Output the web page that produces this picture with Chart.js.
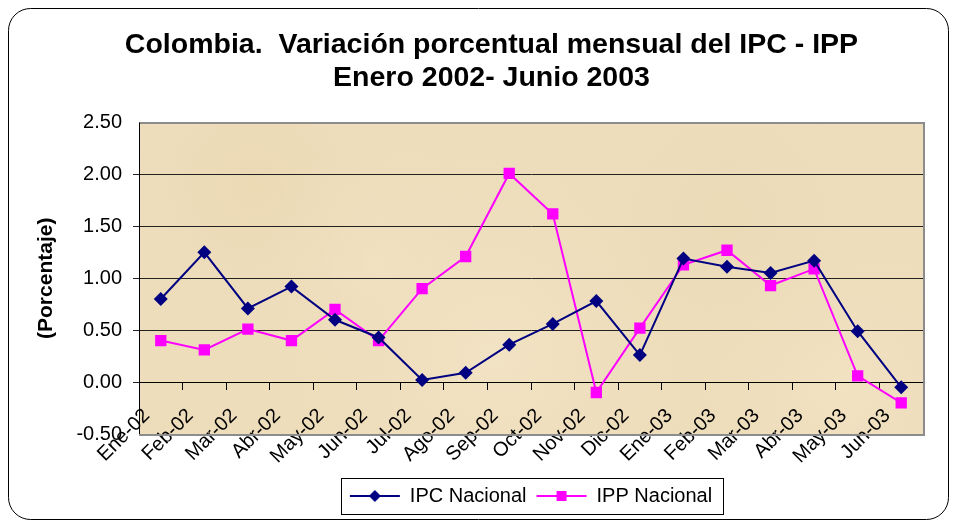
<!DOCTYPE html>
<html>
<head>
<meta charset="utf-8">
<script src="https://cdn.jsdelivr.net/npm/chart.js@4.4.0/dist/chart.umd.min.js"></script>
<style>
  html, body { margin: 0; padding: 0; background: #fff; }
  #wrap { position: relative; width: 957px; height: 526px; }
</style>
</head>
<body>
<div id="wrap">
  <canvas id="ipcChart" width="957" height="526"></canvas>
</div>

<script>
// meses Ene-2002 .. Jun-2003
var meses = ['Ene-02','Feb-02','Mar-02','Abr-02','May-02','Jun-02','Jul-02','Ago-02','Sep-02',
             'Oct-02','Nov-02','Dic-02','Ene-03','Feb-03','Mar-03','Abr-03','May-03','Jun-03'];

var ipcNacional = [0.80, 1.25, 0.71, 0.92, 0.60, 0.43, 0.02, 0.09, 0.36,
                   0.56, 0.78, 0.26, 1.19, 1.11, 1.05, 1.17, 0.49, -0.05];

var ippNacional = [0.40, 0.31, 0.51, 0.40, 0.70, 0.40, 0.90, 1.21, 2.01,
                   1.62, -0.10, 0.52, 1.13, 1.27, 0.93, 1.09, 0.06, -0.20];

var yTicks = [-0.5, 0, 0.5, 1, 1.5, 2, 2.5];

var FONT = "'Liberation Sans', Arial, sans-serif";

// legend sample: short line with the marker in the middle
function legendSample(color, shape) {
  var c = document.createElement('canvas');
  c.width = 52; c.height = 16;
  var g = c.getContext('2d');
  g.strokeStyle = color;
  g.lineWidth = 2;
  g.beginPath(); g.moveTo(1, 8); g.lineTo(51, 8); g.stroke();
  g.fillStyle = color;
  g.beginPath();
  if (shape == 'diamond') {
    g.moveTo(26, 2); g.lineTo(32, 8); g.lineTo(26, 14); g.lineTo(20, 8);
  } else {
    g.rect(21, 3, 10, 10);
  }
  g.closePath(); g.fill();
  return c;
}

// outer frame, parchment plot background and gray shadow border
var decor = {
  id: 'decor',
  beforeDraw: function (chart) {
    var ctx = chart.ctx, a = chart.chartArea;
    ctx.save();
    ctx.fillStyle = '#fff';
    ctx.fillRect(0, 0, chart.width, chart.height);
    ctx.beginPath();
    ctx.roundRect(8.5, 8.5, 940, 511, 22);
    ctx.strokeStyle = '#000';
    ctx.lineWidth = 1;
    ctx.stroke();

    ctx.fillStyle = '#EEDDBB';
    ctx.fillRect(a.left, a.top, a.right - a.left, a.bottom - a.top);
    var spots = [[0.15, 0.2, 170, 'rgba(232,212,172,0.45)'], [0.45, 0.75, 220, 'rgba(245,232,204,0.55)'],
                 [0.75, 0.3, 200, 'rgba(232,214,176,0.4)'], [0.9, 0.85, 160, 'rgba(244,230,200,0.55)'],
                 [0.3, 0.45, 140, 'rgba(242,228,198,0.45)']];
    ctx.beginPath();
    ctx.rect(a.left, a.top, a.right - a.left, a.bottom - a.top);
    ctx.clip();
    spots.forEach(function (s) {
      var x = a.left + s[0] * (a.right - a.left), y = a.top + s[1] * (a.bottom - a.top);
      var gr = ctx.createRadialGradient(x, y, 0, x, y, s[2]);
      gr.addColorStop(0, s[3]);
      gr.addColorStop(1, 'rgba(238,221,187,0)');
      ctx.fillStyle = gr;
      ctx.fillRect(a.left, a.top, a.right - a.left, a.bottom - a.top);
    });
    ctx.restore();
  },
  afterDraw: function (chart) {
    var ctx = chart.ctx, a = chart.chartArea;
    ctx.save();
    ctx.strokeStyle = '#8c8c8c';
    ctx.lineWidth = 2;
    ctx.beginPath();
    ctx.moveTo(a.left, a.top + 0.5);
    ctx.lineTo(a.right + 1, a.top + 0.5);
    ctx.lineTo(a.right + 1, a.bottom + 1);
    ctx.lineTo(a.left, a.bottom + 1);
    ctx.stroke();
    ctx.strokeStyle = '#000';
    ctx.lineWidth = 1;
    ctx.beginPath();
    ctx.moveTo(a.left + 0.5, a.top);
    ctx.lineTo(a.left + 0.5, a.bottom);
    ctx.stroke();

    // legend frame
    var hb = chart.legend.legendHitBoxes;
    if (hb && hb.length) {
      var l = hb[0].left - 9, r = hb[hb.length - 1].left + hb[hb.length - 1].width + 11;
      var t = hb[0].top - 8, b = hb[0].top + hb[0].height + 8;
      ctx.strokeStyle = '#000';
      ctx.strokeRect(Math.round(l) + 0.5, Math.round(t) + 0.5, Math.round(r - l), Math.round(b - t));
    }
    ctx.restore();
  }
};

// empty axes that only hold room (below the plot for the month labels, right of it for the title centring)
function spacer(pos, size) {
  return {
    type: 'linear',
    position: pos,
    display: true,
    afterFit: function (s) { if (pos == 'bottom') s.height = size; else s.width = size; },
    grid: { display: false, drawTicks: false },
    border: { display: false },
    ticks: { display: false }
  };
}

var ctx = document.getElementById('ipcChart').getContext('2d');

var chart = new Chart(ctx, {
  type: 'line',
  data: {
    labels: meses,
    datasets: [{
      label: 'IPC Nacional',
      data: ipcNacional,
      borderColor: '#000080',
      backgroundColor: '#000080',
      borderWidth: 2,
      pointStyle: 'rectRot',
      pointRadius: 7,
      pointHoverRadius: 7,
      pointBorderWidth: 0,
      tension: 0
    }, {
      label: 'IPP Nacional',
      data: ippNacional,
      borderColor: '#FF00FF',
      backgroundColor: '#FF00FF',
      borderWidth: 2,
      pointStyle: 'rect',
      pointRadius: 8,
      pointHoverRadius: 8,
      pointBorderWidth: 0,
      tension: 0
    }]
  },
  options: {
    responsive: false,
    animation: false,
    events: [],
    layout: { padding: { left: 40, right: 14, top: 0, bottom: 10 } },
    plugins: {
      title: {
        display: true,
        text: ['Colombia.  Variación porcentual mensual del IPC - IPP', 'Enero 2002- Junio 2003'],
        color: '#000',
        font: { family: FONT, size: 28.5, weight: 'bold', lineHeight: 1.15 },
        padding: { top: 29, bottom: 28 }
      },
      legend: {
        position: 'bottom',
        fullSize: false,
        labels: {
          color: '#000',
          font: { family: FONT, size: 20 },
          usePointStyle: true,
          pointStyleWidth: 50,
          padding: 10,
          generateLabels: function (c) {
            return [
              { text: 'IPC Nacional', pointStyle: legendSample('#000080', 'diamond'), datasetIndex: 0, lineWidth: 0, fontColor: '#000' },
              { text: 'IPP Nacional', pointStyle: legendSample('#FF00FF', 'square'), datasetIndex: 1, lineWidth: 0, fontColor: '#000' }
            ];
          }
        }
      },
      tooltip: { enabled: false }
    },
    scales: {
      x: {
        position: { y: 0 },
        offset: true,
        afterFit: function (s) { s.height = 0; },
        grid: { offset: true, drawOnChartArea: false, drawTicks: true, tickLength: 7, color: '#000' },
        border: { display: true, color: '#000', width: 1 },
        ticks: {
          autoSkip: false,
          minRotation: 45,
          maxRotation: 45,
          labelOffset: -14,
          padding: 15,
          color: '#000',
          font: { family: FONT, size: 20 }
        }
      },
      xPad: spacer('bottom', 42),
      yPad: spacer('right', 20),
      y: {
        min: -0.5,
        max: 2.5,
        afterFit: function (s) { s.width = 99; },
        afterBuildTicks: function (s) { s.ticks = yTicks.map(function (v) { return { value: v }; }); },
        grid: {
          drawTicks: true,
          tickLength: 6,
          color: function (c) {
            if (c.tick && (c.tick.value == 2.5 || c.tick.value == -0.5)) return 'rgba(0,0,0,0)';
            return '#222';
          }
        },
        border: { display: true, color: '#000', width: 1 },
        title: {
          display: true,
          text: '(Porcentaje)',
          color: '#000',
          font: { family: FONT, size: 21, weight: 'bold' },
          padding: { top: -6, bottom: 0 }
        },
        ticks: {
          padding: 11,
          color: '#000',
          font: { family: FONT, size: 20 },
          callback: function (v) { return Number(v).toFixed(2); }
        }
      }
    }
  },
  plugins: [decor]
});
</script>
</body>
</html>
